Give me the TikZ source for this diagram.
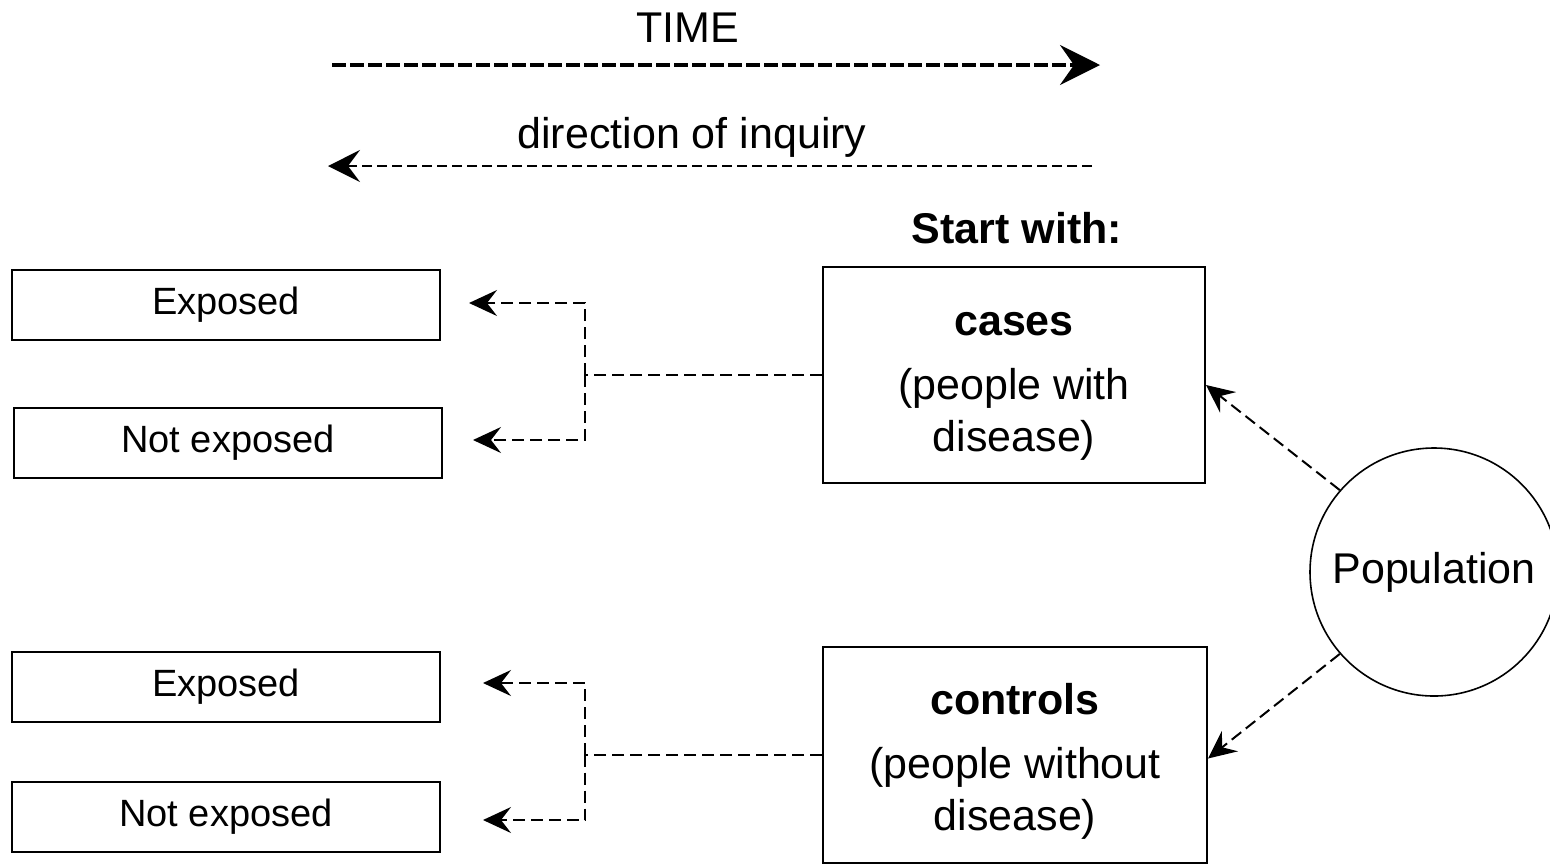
\documentclass[tikz,border=0pt]{standalone}
\usepackage{fontspec}
\setmainfont{Liberation Sans}
\usetikzlibrary{arrows.meta}

\tikzset{every picture/.style={line width=0.75pt}}
\tikzset{
  bigtxt/.style={font=\fontsize{21.5}{26}\selectfont},
  grpbox/.style={draw,line width=1pt,minimum width=214pt,minimum height=35pt,inner sep=0pt,font=\fontsize{19}{23}\selectfont},
  startbox/.style={draw,line width=1pt,minimum width=191pt,minimum height=108pt,inner sep=0pt},
  dline/.style={dash pattern=on 6pt off 3pt,line width=1pt},
  tip/.style={-{Stealth[length=14pt,width=13pt,inset=5pt]}},
}

\begin{document}
\begin{tikzpicture}[x=0.5pt,y=0.5pt,yscale=-1,xscale=1]
\useasboundingbox (0,0) rectangle (1550,864);

%Text: time axis
\node[bigtxt] (time) at (688,28) {TIME};
\coordinate (timeL) at (332,65);
\coordinate (timeR) at (1100,65);
\draw[dash pattern=on 7pt off 2pt,line width=2pt,-{Stealth[length=20pt,width=20pt,inset=7pt]}] (timeL) -- (timeR);

%Text: inquiry axis
\node[bigtxt] (inq) at (692,137) {direction of inquiry};
\coordinate (inqR) at (1092,166);
\coordinate (inqL) at (328,166);
\draw[dash pattern=on 5pt off 2.5pt,line width=0.9pt,-{Stealth[length=16pt,width=16pt,inset=6pt]}] (inqR) -- (inqL);

\node[bigtxt,font=\bfseries\fontsize{21.5}{26}\selectfont] (start) at (1017,228) {Start with:};

%Shape: boxes on the right
\node[startbox] (cases) at (1014,375) {};
\node[bigtxt,align=center] (casestxt) at (1014,386) {\textbf{cases}\\[6pt](people with\\disease)};
\node[startbox,minimum width=192pt] (controls) at (1015,754.5) {};
\node[bigtxt,align=center] (controlstxt) at (1015,761) {\textbf{controls}\\[6pt](people without\\disease)};

%Shape: Circle
\node[draw,circle,line width=0.8pt,minimum size=124pt,inner sep=0pt,bigtxt] (pop) at (1434,572) {Population};

%Shape: boxes on the left
\node[grpbox] (exp1) at (226,305) {Exposed};
\node[grpbox] (nexp1) at (228,443) {Not exposed};
\node[grpbox] (exp2) at (226,686.5) {Exposed};
\node[grpbox] (nexp2) at (226,816.5) {Not exposed};

%Connectors: cases
\coordinate (fork1) at (585,375);
\draw[dline] (cases.west) -- (fork1);
\draw[dline,tip] (fork1) |- ([xshift=14pt,yshift=-1pt]exp1.east);
\draw[dline,tip] (fork1) |- ([xshift=15pt,yshift=-1.5pt]nexp1.east);

%Connectors: controls
\coordinate (fork2) at (585,754.5);
\draw[dline] (controls.west) -- (fork2);
\draw[dline,tip] (fork2) |- ([xshift=21pt,yshift=-1.75pt]exp2.east);
\draw[dline,tip] (fork2) |- ([xshift=21pt,yshift=1.75pt]nexp2.east);

%Connectors: population
\draw[dline,tip] (pop.139) -- ([yshift=5pt]cases.east);
\draw[dline,tip] (pop.221) -- ([yshift=2pt]controls.east);
\end{tikzpicture}
\end{document}
